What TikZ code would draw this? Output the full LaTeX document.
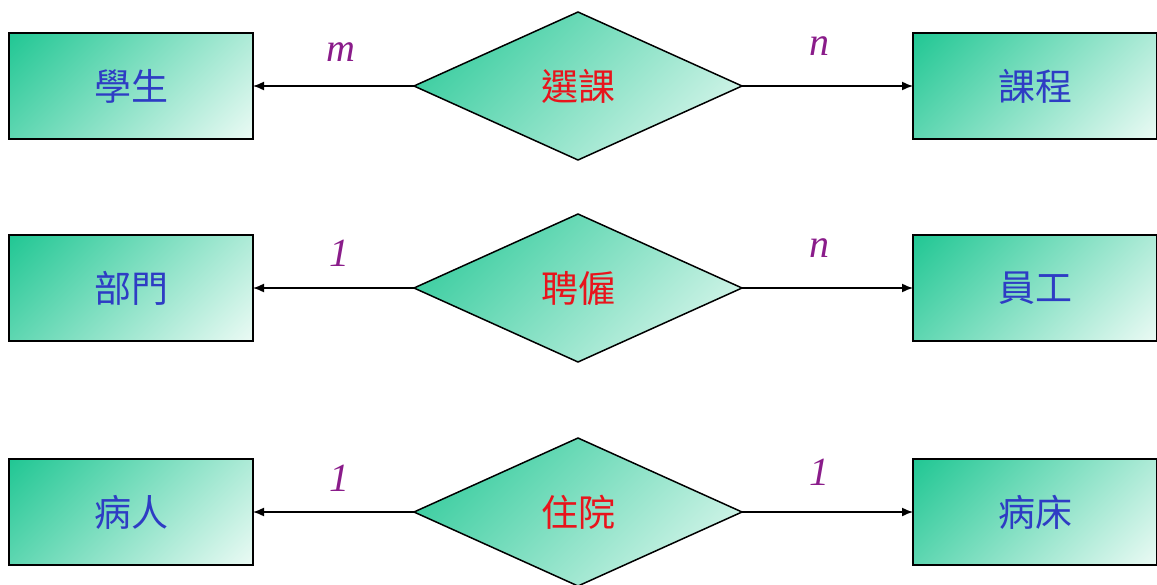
\documentclass[tikz,border=0pt]{standalone}
\usepackage{fontspec}
\setmainfont{Liberation Serif}
\newfontfamily\cjk{Noto Sans CJK TC}
\usetikzlibrary{shapes.geometric,arrows.meta}
\usepackage{xcolor}

\definecolor{gdark}{HTML}{22C794}
\definecolor{glight}{HTML}{EAFAF4}
\definecolor{entblue}{HTML}{2E3CC4}
\definecolor{relred}{HTML}{E8141C}
\definecolor{cardpurple}{HTML}{8A1C8A}

\pgfdeclareverticalshading{boxfade}{100bp}{color(0bp)=(glight); color(15bp)=(glight);
    color(85bp)=(gdark); color(100bp)=(gdark)}

\tikzset{
    fade/.style={shading=boxfade, shading angle=45},
    entity/.style={draw, line width=1.5pt, fade, minimum width=244pt, minimum height=106pt,
        outer sep=0pt, inner sep=0pt, text=entblue, font=\cjk\fontsize{37}{42}\selectfont},
    relation/.style={diamond, draw, line width=1.5pt, fade, minimum width=328pt, minimum height=148pt,
        aspect=2.2, outer sep=0pt, inner sep=0pt, text=relred, font=\cjk\fontsize{37}{42}\selectfont},
    card/.style={text=cardpurple, font=\itshape\fontsize{40}{44}\selectfont, inner sep=0pt},
    link/.style={line width=1.5pt, -{Latex[length=11pt,width=9pt]}}
}

\begin{document}
\begin{tikzpicture}[x=1pt,y=-1pt]
    \useasboundingbox (0,0) rectangle (1157,584);

    % row 1
    \node[entity] (student) at (131,86) {學生};
    \node[relation] (enroll) at (578,86) {選課};
    \node[entity] (course) at (1035,86) {課程};
    \draw[link] (enroll.west) -- (student.east);
    \draw[link] (enroll.east) -- (course.west);
    \node[card] (m1) at (341,52) {m};
    \node[card] (n1) at (819,46) {n};

    % row 2
    \node[entity] (dept) at (131,288) {部門};
    \node[relation] (hire) at (578,288) {聘僱};
    \node[entity] (staff) at (1035,288) {員工};
    \draw[link] (hire.west) -- (dept.east);
    \draw[link] (hire.east) -- (staff.west);
    \node[card] (one2) at (339,253) {1};
    \node[card] (n2) at (819,248) {n};

    % row 3
    \node[entity] (patient) at (131,512) {病人};
    \node[relation] (stay) at (578,512) {住院};
    \node[entity] (bed) at (1035,512) {病床};
    \draw[link] (stay.west) -- (patient.east);
    \draw[link] (stay.east) -- (bed.west);
    \node[card] (one3) at (339,478) {1};
    \node[card] (one3b) at (819,472) {1};
\end{tikzpicture}
\end{document}
